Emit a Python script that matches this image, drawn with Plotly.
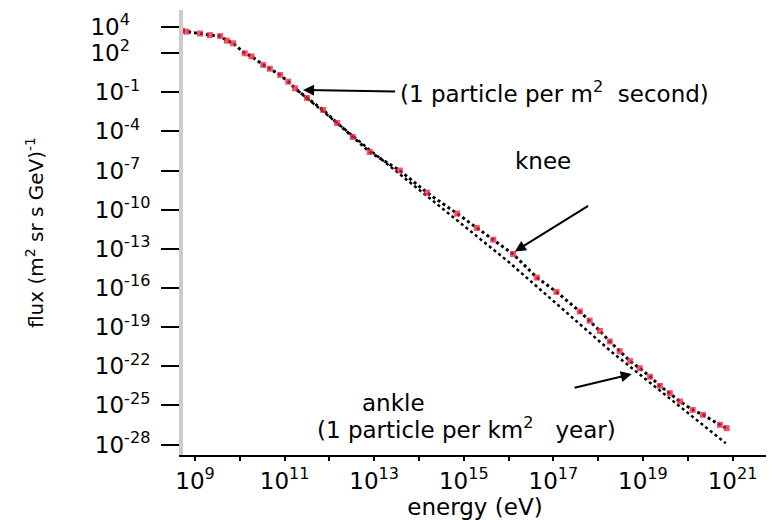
import plotly.graph_objects as go

# ---- data (log10 units) ----
log_energy = [8.71, 8.81, 9.11, 9.33, 9.56, 9.71, 9.85, 10.11, 10.26, 10.52, 10.67, 10.90,
              11.08, 11.23, 11.50, 11.86, 12.17, 12.52, 12.90, 13.57, 14.18, 14.85, 15.29,
              15.66, 16.10, 16.63, 17.07, 17.59, 17.81, 18.04, 18.26, 18.48, 18.71, 18.93,
              19.16, 19.38, 19.60, 19.83, 20.11, 20.34, 20.72, 20.87]
log_flux = [3.70, 3.64, 3.50, 3.38, 3.30, 2.95, 2.75, 1.98, 1.75, 1.09, 0.80, 0.32,
            -0.19, -0.70, -1.44, -2.36, -3.36, -4.43, -5.58, -7.00, -8.70, -10.30, -11.40,
            -12.30, -13.40, -15.20, -16.30, -17.80, -18.50, -19.30, -20.10, -20.85, -21.60,
            -22.15, -22.80, -23.50, -24.06, -24.70, -25.34, -25.72, -26.49, -26.74]

fit_log_energy = [11.3, 13.0, 16.0, 18.3, 20.85]
fit_log_flux = [-0.9, -5.7, -14.0, -20.9, -27.9]

x_tick_exp = list(range(9, 22))
x_label_exp = [9, 11, 13, 15, 17, 19, 21]
y_tick_exp = [4, 2, -1, -4, -7, -10, -13, -16, -19, -22, -25, -28]

energy = [10.0 ** v for v in log_energy]
flux = [10.0 ** v for v in log_flux]
fit_energy = [10.0 ** v for v in fit_log_energy]
fit_flux = [10.0 ** v for v in fit_log_flux]

FONT = "DejaVu Sans"
FIG_SPACE = "\u2007"

fig = go.Figure()
fig.add_trace(go.Scatter(x=energy, y=flux, mode="lines",
                         line=dict(color="black", width=3, dash="dot"),
                         showlegend=False, hoverinfo="skip"))
fig.add_trace(go.Scatter(x=fit_energy, y=fit_flux, mode="lines",
                         line=dict(color="black", width=2.5, dash="dot"),
                         showlegend=False, hoverinfo="skip"))
fig.add_trace(go.Scatter(x=energy, y=flux, mode="markers",
                         marker=dict(color="#e8203a", size=6, symbol="square",
                                     opacity=0.75),
                         showlegend=False))

xtickvals = [10.0 ** k for k in x_tick_exp]
xticktext = [f"10<sup>{k}</sup>" if k in x_label_exp else "" for k in x_tick_exp]
ytickvals = [10.0 ** k for k in y_tick_exp]
# pad short labels so the column reads left-aligned like the reference
ymaxlen = max(len(str(k)) for k in y_tick_exp)
yticktext = [f"10<sup>{k}{FIG_SPACE * (ymaxlen - len(str(k)))}</sup>" for k in y_tick_exp]

fig.update_xaxes(type="log", range=[8.73, 21.77], tickvals=xtickvals, ticktext=xticktext,
                 ticks="outside", ticklen=4, tickwidth=2, tickcolor="black",
                 showline=True, linecolor="black", linewidth=2, showgrid=False,
                 zeroline=False, tickfont=dict(family=FONT, size=23, color="black"),
                 title=dict(text="energy (eV)", font=dict(family=FONT, size=23, color="black"),
                            standoff=2))
fig.update_yaxes(type="log", range=[-28.8, 5.3], tickvals=ytickvals, ticktext=yticktext,
                 ticks="outside", ticklen=18, tickwidth=2, tickcolor="black",
                 ticklabelstandoff=6,
                 showline=True, linecolor="#cccccc", linewidth=4, showgrid=False,
                 zeroline=False, tickfont=dict(family=FONT, size=23, color="black"),
                 title=dict(text="flux (m<sup>2</sup> sr s GeV)<sup>-1</sup>",
                            font=dict(family=FONT, size=20, color="black"), standoff=42))

ann_font = dict(family=FONT, size=23, color="black")
arrow = dict(showarrow=True, arrowhead=2, arrowsize=1.1, arrowwidth=2,
             arrowcolor="black", xref="x", yref="y", axref="x", ayref="y", text="")
annotations = [
    dict(x=11.41, y=-0.83, ax=13.5, ay=-0.95, **arrow),
    dict(x=13.52, y=-0.95, xref="x", yref="y", xanchor="left", showarrow=False,
         text="(1 particle per m<sup>2</sup>  second)", font=ann_font),
    dict(x=16.14, y=-13.2, ax=17.81, ay=-9.64, **arrow),
    dict(x=16.77, y=-6.3, xref="x", yref="y", showarrow=False, text="knee", font=ann_font),
    dict(x=21.85, y=-7.8, xref="x", yref="y", xanchor="right", showarrow=False,
         text="(1 particle per m<sup>2</sup> - year)", font=ann_font),
    dict(x=18.75, y=-22.6, ax=17.44, ay=-23.67, **arrow),
    dict(x=13.42, y=-24.8, xref="x", yref="y", showarrow=False, text="ankle", font=ann_font),
    dict(x=15.05, y=-26.7, xref="x", yref="y", showarrow=False,
         text="(1 particle per km<sup>2</sup>   year)", font=ann_font),
]
fig.update_layout(annotations=annotations)

# the page body adds an 8px offset, so the figure is drawn 8px smaller
fig.update_layout(width=766, height=512, margin=dict(l=175, r=7, t=2, b=65),
                  plot_bgcolor="white", paper_bgcolor="white",
                  font=dict(family=FONT, color="black"))

fig.write_html("out.html")
